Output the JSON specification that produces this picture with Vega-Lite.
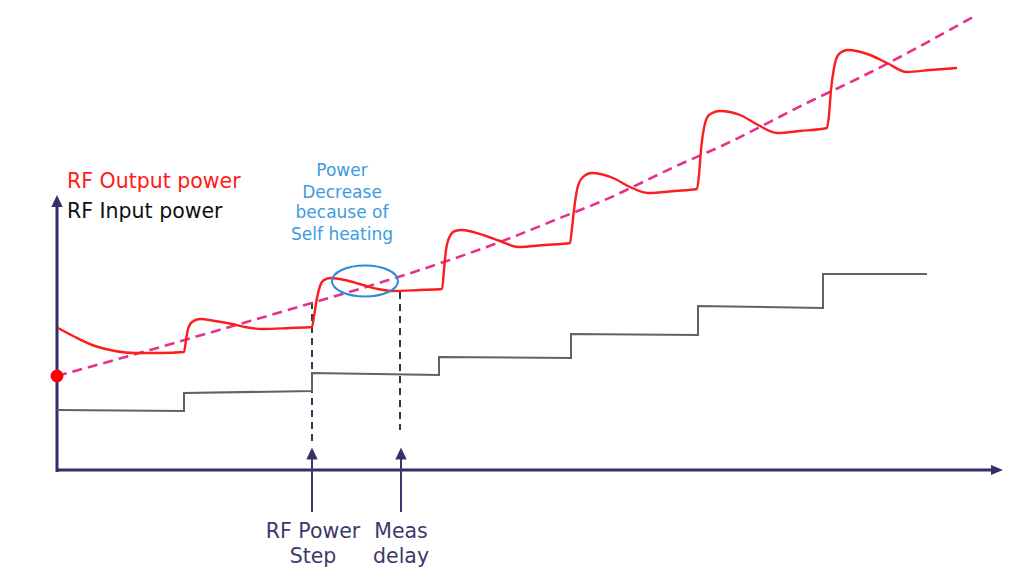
{
  "$schema": "https://vega.github.io/schema/vega-lite/v6.json",
  "width": 1024,
  "height": 581,
  "autosize": {"type": "fit", "contains": "padding"},
  "padding": 0,
  "background": "white",
  "config": {"view": {"stroke": null}},
  "datasets": {
    "output": [
      {"x": 58, "y": 328}, {"x": 75, "y": 337}, {"x": 95, "y": 346}, {"x": 115, "y": 351}, {"x": 135, "y": 353},
      {"x": 160, "y": 353}, {"x": 184, "y": 352}, {"x": 186, "y": 340}, {"x": 188, "y": 329}, {"x": 192, "y": 322},
      {"x": 200, "y": 319}, {"x": 215, "y": 321}, {"x": 232, "y": 324}, {"x": 245, "y": 327}, {"x": 262, "y": 329},
      {"x": 290, "y": 328}, {"x": 312, "y": 327}, {"x": 314, "y": 316}, {"x": 317, "y": 298}, {"x": 320, "y": 286},
      {"x": 324, "y": 280}, {"x": 331, "y": 278}, {"x": 345, "y": 280}, {"x": 363, "y": 285}, {"x": 378, "y": 289},
      {"x": 392, "y": 291}, {"x": 420, "y": 290}, {"x": 442, "y": 289}, {"x": 444, "y": 270}, {"x": 446, "y": 250},
      {"x": 450, "y": 236}, {"x": 455, "y": 231}, {"x": 462, "y": 230}, {"x": 483, "y": 235}, {"x": 500, "y": 241},
      {"x": 518, "y": 247}, {"x": 545, "y": 245}, {"x": 570, "y": 243}, {"x": 572, "y": 228}, {"x": 574, "y": 210},
      {"x": 577, "y": 190}, {"x": 582, "y": 178}, {"x": 592, "y": 173}, {"x": 613, "y": 178}, {"x": 630, "y": 187},
      {"x": 648, "y": 193}, {"x": 675, "y": 191}, {"x": 697, "y": 189}, {"x": 699, "y": 175}, {"x": 701, "y": 150},
      {"x": 704, "y": 128}, {"x": 709, "y": 115}, {"x": 720, "y": 111}, {"x": 740, "y": 115}, {"x": 758, "y": 125},
      {"x": 777, "y": 133}, {"x": 800, "y": 131}, {"x": 827, "y": 128}, {"x": 829, "y": 115}, {"x": 831, "y": 90},
      {"x": 834, "y": 68}, {"x": 839, "y": 54}, {"x": 848, "y": 50}, {"x": 870, "y": 55}, {"x": 887, "y": 63},
      {"x": 907, "y": 72}, {"x": 930, "y": 70}, {"x": 957, "y": 68}
    ],
    "input": [
      {"i": 1, "x": 57, "y": 410}, {"i": 2, "x": 184, "y": 411}, {"i": 3, "x": 184, "y": 393}, {"i": 4, "x": 312, "y": 391},
      {"i": 5, "x": 312, "y": 373}, {"i": 6, "x": 439, "y": 375}, {"i": 7, "x": 439, "y": 357}, {"i": 8, "x": 571, "y": 358},
      {"i": 9, "x": 571, "y": 334}, {"i": 10, "x": 698, "y": 335}, {"i": 11, "x": 698, "y": 306}, {"i": 12, "x": 823, "y": 308},
      {"i": 13, "x": 823, "y": 274}, {"i": 14, "x": 927, "y": 274}
    ],
    "trend": [
      {"x": 57, "y": 376}, {"x": 150, "y": 350}, {"x": 250, "y": 321}, {"x": 312, "y": 303}, {"x": 420, "y": 270},
      {"x": 500, "y": 242}, {"x": 560, "y": 218}, {"x": 600, "y": 202}, {"x": 683, "y": 163}, {"x": 715, "y": 149},
      {"x": 813, "y": 100}, {"x": 857, "y": 79}, {"x": 973, "y": 17}
    ],
    "axes": [
      {"x": 57, "y": 472, "x2": 57, "y2": 203},
      {"x": 56, "y": 470, "x2": 993, "y2": 470}
    ],
    "markers": [
      {"x": 312, "y": 302, "x2": 312, "y2": 443},
      {"x": 400, "y": 292, "x2": 400, "y2": 430}
    ],
    "stems": [
      {"x": 312, "y": 512, "x2": 312, "y2": 457},
      {"x": 401, "y": 512, "x2": 401, "y2": 457}
    ],
    "upheads": [
      {"x": 312, "y": 453.5}, {"x": 401, "y": 453.5}, {"x": 57, "y": 201}
    ],
    "rightheads": [{"x": 997, "y": 470}],
    "dot": [{"x": 57, "y": 376}],
    "ellipse": [{"x": 365, "y": 281}],
    "legendOut": [{"x": 67, "y": 182, "t": "RF Output power"}],
    "legendIn": [{"x": 67, "y": 212, "t": "RF Input power"}],
    "note": [
      {"x": 342, "y": 171, "t": "Power"},
      {"x": 342, "y": 193, "t": "Decrease"},
      {"x": 342, "y": 213, "t": "because of"},
      {"x": 342, "y": 235, "t": "Self heating"}
    ],
    "bottom": [
      {"x": 313, "y": 532, "t": "RF Power"},
      {"x": 313, "y": 557, "t": "Step"},
      {"x": 401, "y": 532, "t": "Meas"},
      {"x": 401, "y": 557, "t": "delay"}
    ]
  },
  "layer": [
    {
      "data": {"name": "axes"},
      "mark": {"type": "rule", "color": "#2f2f6b", "strokeWidth": 3},
      "encoding": {
        "x": {"field": "x", "type": "quantitative", "scale": {"domain": [0, 1024], "nice": false, "zero": false}, "axis": null},
        "y": {"field": "y", "type": "quantitative", "scale": {"domain": [0, 581], "nice": false, "zero": false, "reverse": true}, "axis": null},
        "x2": {"field": "x2"},
        "y2": {"field": "y2"}
      }
    },
    {
      "data": {"name": "markers"},
      "mark": {"type": "rule", "color": "#2b3650", "strokeWidth": 2, "strokeDash": [7, 5]},
      "encoding": {
        "x": {"field": "x", "type": "quantitative", "scale": {"domain": [0, 1024], "nice": false, "zero": false}, "axis": null},
        "y": {"field": "y", "type": "quantitative", "scale": {"domain": [0, 581], "nice": false, "zero": false, "reverse": true}, "axis": null},
        "x2": {"field": "x2"},
        "y2": {"field": "y2"}
      }
    },
    {
      "data": {"name": "stems"},
      "mark": {"type": "rule", "color": "#45356e", "strokeWidth": 2},
      "encoding": {
        "x": {"field": "x", "type": "quantitative", "scale": {"domain": [0, 1024], "nice": false, "zero": false}, "axis": null},
        "y": {"field": "y", "type": "quantitative", "scale": {"domain": [0, 581], "nice": false, "zero": false, "reverse": true}, "axis": null},
        "x2": {"field": "x2"},
        "y2": {"field": "y2"}
      }
    },
    {
      "data": {"name": "input"},
      "mark": {"type": "line", "color": "#626262", "strokeWidth": 2},
      "encoding": {
        "x": {"field": "x", "type": "quantitative", "scale": {"domain": [0, 1024], "nice": false, "zero": false}, "axis": null},
        "y": {"field": "y", "type": "quantitative", "scale": {"domain": [0, 581], "nice": false, "zero": false, "reverse": true}, "axis": null},
        "order": {"field": "i", "type": "quantitative"}
      }
    },
    {
      "data": {"name": "trend"},
      "mark": {"type": "line", "color": "#e6318a", "strokeWidth": 2.6, "strokeDash": [10, 6], "interpolate": "monotone"},
      "encoding": {
        "x": {"field": "x", "type": "quantitative", "scale": {"domain": [0, 1024], "nice": false, "zero": false}, "axis": null},
        "y": {"field": "y", "type": "quantitative", "scale": {"domain": [0, 581], "nice": false, "zero": false, "reverse": true}, "axis": null}
      }
    },
    {
      "data": {"name": "output"},
      "mark": {"type": "line", "color": "#fa1e1e", "strokeWidth": 2.4, "interpolate": "monotone"},
      "encoding": {
        "x": {"field": "x", "type": "quantitative", "scale": {"domain": [0, 1024], "nice": false, "zero": false}, "axis": null},
        "y": {"field": "y", "type": "quantitative", "scale": {"domain": [0, 581], "nice": false, "zero": false, "reverse": true}, "axis": null}
      }
    },
    {
      "data": {"name": "upheads"},
      "mark": {"type": "point", "shape": "M0,-1L0.95,1L-0.95,1Z", "filled": true, "color": "#3a3068", "opacity": 1, "size": 144},
      "encoding": {
        "x": {"field": "x", "type": "quantitative", "scale": {"domain": [0, 1024], "nice": false, "zero": false}, "axis": null},
        "y": {"field": "y", "type": "quantitative", "scale": {"domain": [0, 581], "nice": false, "zero": false, "reverse": true}, "axis": null}
      }
    },
    {
      "data": {"name": "rightheads"},
      "mark": {"type": "point", "shape": "M1,0L-1,-0.85L-1,0.85Z", "filled": true, "color": "#2f2f6b", "opacity": 1, "size": 144},
      "encoding": {
        "x": {"field": "x", "type": "quantitative", "scale": {"domain": [0, 1024], "nice": false, "zero": false}, "axis": null},
        "y": {"field": "y", "type": "quantitative", "scale": {"domain": [0, 581], "nice": false, "zero": false, "reverse": true}, "axis": null}
      }
    },
    {
      "data": {"name": "dot"},
      "mark": {"type": "circle", "color": "#ff0000", "opacity": 1, "size": 165},
      "encoding": {
        "x": {"field": "x", "type": "quantitative", "scale": {"domain": [0, 1024], "nice": false, "zero": false}, "axis": null},
        "y": {"field": "y", "type": "quantitative", "scale": {"domain": [0, 581], "nice": false, "zero": false, "reverse": true}, "axis": null}
      }
    },
    {
      "data": {"name": "ellipse"},
      "mark": {"type": "point", "shape": "M-1,0C-1,-0.26,-0.552,-0.47,0,-0.47C0.552,-0.47,1,-0.26,1,0C1,0.26,0.552,0.47,0,0.47C-0.552,0.47,-1,0.26,-1,0Z", "filled": false, "color": "#2f8ad6", "strokeWidth": 2, "opacity": 1, "size": 4356},
      "encoding": {
        "x": {"field": "x", "type": "quantitative", "scale": {"domain": [0, 1024], "nice": false, "zero": false}, "axis": null},
        "y": {"field": "y", "type": "quantitative", "scale": {"domain": [0, 581], "nice": false, "zero": false, "reverse": true}, "axis": null}
      }
    },
    {
      "data": {"name": "legendOut"},
      "mark": {"type": "text", "align": "left", "baseline": "middle", "font": "DejaVu Sans", "fontSize": 20.5, "color": "#ff1a1a"},
      "encoding": {
        "x": {"field": "x", "type": "quantitative", "scale": {"domain": [0, 1024], "nice": false, "zero": false}, "axis": null},
        "y": {"field": "y", "type": "quantitative", "scale": {"domain": [0, 581], "nice": false, "zero": false, "reverse": true}, "axis": null},
        "text": {"field": "t"}
      }
    },
    {
      "data": {"name": "legendIn"},
      "mark": {"type": "text", "align": "left", "baseline": "middle", "font": "DejaVu Sans", "fontSize": 20.5, "color": "#111111"},
      "encoding": {
        "x": {"field": "x", "type": "quantitative", "scale": {"domain": [0, 1024], "nice": false, "zero": false}, "axis": null},
        "y": {"field": "y", "type": "quantitative", "scale": {"domain": [0, 581], "nice": false, "zero": false, "reverse": true}, "axis": null},
        "text": {"field": "t"}
      }
    },
    {
      "data": {"name": "note"},
      "mark": {"type": "text", "align": "center", "baseline": "middle", "font": "DejaVu Sans", "fontSize": 17, "color": "#3d9be0"},
      "encoding": {
        "x": {"field": "x", "type": "quantitative", "scale": {"domain": [0, 1024], "nice": false, "zero": false}, "axis": null},
        "y": {"field": "y", "type": "quantitative", "scale": {"domain": [0, 581], "nice": false, "zero": false, "reverse": true}, "axis": null},
        "text": {"field": "t"}
      }
    },
    {
      "data": {"name": "bottom"},
      "mark": {"type": "text", "align": "center", "baseline": "middle", "font": "DejaVu Sans", "fontSize": 20.5, "color": "#3d3a6b"},
      "encoding": {
        "x": {"field": "x", "type": "quantitative", "scale": {"domain": [0, 1024], "nice": false, "zero": false}, "axis": null},
        "y": {"field": "y", "type": "quantitative", "scale": {"domain": [0, 581], "nice": false, "zero": false, "reverse": true}, "axis": null},
        "text": {"field": "t"}
      }
    }
  ]
}
